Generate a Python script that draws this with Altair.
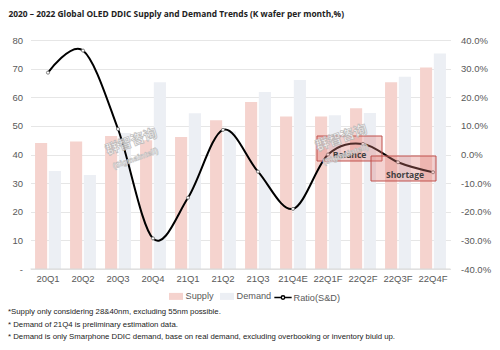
import altair as alt
import pandas as pd

quarters = ["20Q1", "20Q2", "20Q3", "20Q4", "21Q1", "21Q2", "21Q3", "21Q4E",
            "22Q1F", "22Q2F", "22Q3F", "22Q4F"]
supply = [44.0, 44.5, 46.5, 45.0, 46.1, 52.0, 58.3, 53.3, 53.3, 56.2, 65.2, 70.4]
demand = [34.2, 32.8, 47.5, 65.2, 54.4, 48.0, 61.8, 66.0, 53.7, 54.5, 67.2, 75.3]
ratio = [0.286, 0.363, 0.089, -0.293, -0.151, 0.086, -0.060, -0.190,
         0.000, 0.037, -0.027, -0.062]

title_text = "2020 \u2013 2022 Global OLED DDIC Supply and Demand Trends (K wafer per month,%)"
notes = [
    "*Supply only considering 28&40nm, excluding 55nm possible.",
    "* Demand of 21Q4 is preliminary estimation data.",
    "* Demand is only Smarphone DDIC demand, base on real demand, excluding overbooking or inventory biuld up.",
]

bars_df = pd.DataFrame(
    [{"q": q, "series": "Supply", "v": s} for q, s in zip(quarters, supply)]
    + [{"q": q, "series": "Demand", "v": d} for q, d in zip(quarters, demand)]
)
line_df = pd.DataFrame({"q": quarters, "r": ratio, "series": "Ratio(S&D)"})
one = pd.DataFrame({"a": [0]})

FONT = "Liberation Sans"
GRAY = "#595959"
H = 229

xscale = alt.Scale(domain=quarters, paddingInner=0.26, paddingOuter=0.13)

bars = alt.Chart(bars_df).mark_bar().encode(
    x=alt.X("q:N", scale=xscale, sort=quarters, title=None, axis=None),
    xOffset=alt.XOffset("series:N", sort=["Supply", "Demand"],
                        scale=alt.Scale(domain=["Supply", "Demand"], paddingInner=0.12)),
    y=alt.Y("v:Q", scale=alt.Scale(domain=[0, 80]), title=None, stack=None,
            axis=alt.Axis(orient="left", values=list(range(0, 81, 10)), ticks=False,
                          domain=False, gridColor="#e6e6e6", labelColor=GRAY,
                          labelFontSize=9.5, labelFont=FONT, labelPadding=8,
                          labelExpr="datum.value == 0 ? '-' : datum.label")),
    color=alt.Color("series:N",
                    scale=alt.Scale(domain=["Supply", "Demand"], range=["#f5d3ce", "#eceff4"]),
                    legend=alt.Legend(title=None, orient="none", direction="horizontal",
                                      legendX=137.5, legendY=248,
                                      symbolType="M-1,-0.5H1V0.5H-1Z", symbolSize=196,
                                      labelColor=GRAY, labelFontSize=9.2, labelFont=FONT,
                                      columnPadding=5, labelOffset=1.5)),
)

# category axis: baseline rule and labels placed through the x scale
x_domain = alt.Chart(one).mark_rule(color="#d9d9d9", strokeWidth=1).encode(
    x=alt.value(0), x2=alt.value(420), y=alt.value(H))
x_labels = alt.Chart(pd.DataFrame({"q": quarters})).mark_text(
    font=FONT, fontSize=9.5, color=GRAY, baseline="middle").encode(
    x=alt.X("q:N", sort=quarters, bandPosition=0.5),
    text="q:N", y=alt.value(H + 10))

rscale = alt.Scale(domain=[-0.4, 0.4])
line = alt.Chart(line_df).mark_line(interpolate="cardinal", strokeWidth=2).encode(
    x=alt.X("q:N", sort=quarters, bandPosition=0.5),
    y=alt.Y("r:Q", scale=rscale, title=None,
            axis=alt.Axis(orient="right", values=[-0.4, -0.3, -0.2, -0.1, 0, 0.1, 0.2, 0.3, 0.4],
                          ticks=False, domain=False, grid=False, labelColor=GRAY,
                          labelFontSize=9.5, labelFont=FONT, labelPadding=10,
                          labelExpr="(datum.value < -0.0001 ? '-' : '') + format(abs(datum.value) * 100, '.1f') + '%'")),
    stroke=alt.Stroke("series:N", scale=alt.Scale(domain=["Ratio(S&D)"], range=["black"]),
                      legend=alt.Legend(title=None, orient="none", legendX=243, legendY=248,
                                        symbolType="M-1,0H-0.2M0.2,0H1M-0.2,0A0.2,0.2,0,1,1,0.2,0A0.2,0.2,0,1,1,-0.2,0",
                                        symbolSize=300, symbolStrokeWidth=1.5,
                                        symbolFillColor="white",
                                        labelColor=GRAY, labelFontSize=9.2, labelFont=FONT,
                                        labelOffset=1)),
)
pts = alt.Chart(line_df).mark_point(filled=True, fill="white", stroke="#666666",
                                     strokeWidth=0.8, size=10, opacity=1).encode(
    x=alt.X("q:N", sort=quarters, bandPosition=0.5),
    y=alt.Y("r:Q", scale=rscale, axis=None),
)

# annotation boxes (pixel positions in the plot area)
box_balance = alt.Chart(one).mark_rect(fill="#e07f78", fillOpacity=0.35, stroke="#c0504d",
                                       strokeWidth=1).encode(
    x=alt.value(286.5), x2=alt.value(351.5), y=alt.value(96), y2=alt.value(121))
box_short = alt.Chart(one).mark_rect(fill="#e07f78", fillOpacity=0.35, stroke="#c0504d",
                                     strokeWidth=1).encode(
    x=alt.value(340.5), x2=alt.value(405.5), y=alt.value(116), y2=alt.value(141))
txt_balance = alt.Chart(one).mark_text(text="Balance", font="Open Sans", fontWeight="bold",
                                       fontSize=8.5, color="#404040").encode(
    x=alt.value(319), y=alt.value(115))
txt_short = alt.Chart(one).mark_text(text="Shortage", font="Open Sans", fontWeight="bold",
                                     fontSize=8.5, color="#404040").encode(
    x=alt.value(374.5), y=alt.value(135))

# watermarks
wm = []
for (cx, cy) in [(101, 102), (311, 98)]:
    wm.append(alt.Chart(one).mark_text(text="群智咨询", font="Noto Sans CJK SC", fontWeight="bold",
                                       fontSize=13.5, angle=340, fill="#ffffff", stroke="#b8b8b8",
                                       strokeWidth=0.8, opacity=0.9).encode(
        x=alt.value(cx), y=alt.value(cy)))
    wm.append(alt.Chart(one).mark_text(text="(Sigmaintell)", font=FONT, fontWeight="bold",
                                       fontSize=8, angle=340, fill="#ffffff", stroke="#b8b8b8",
                                       strokeWidth=0.6, opacity=0.9).encode(
        x=alt.value(cx + 4), y=alt.value(cy + 17)))

title = alt.Chart(one).mark_text(text=title_text, font="Open Sans", fontWeight="bold",
                                 fontSize=8.4, color="#222222", align="left",
                                 baseline="middle").encode(
    x=alt.value(-22), y=alt.value(-26))
note_layers = []
for i, n in enumerate(notes):
    note_layers.append(alt.Chart(one).mark_text(text=n, font=FONT, fontSize=7.8,
                                                color="#222222", align="left",
                                                baseline="middle").encode(
        x=alt.value(-22.5), y=alt.value(272 + i * 12.7)))

chart = alt.layer(bars, x_domain, x_labels, line, pts, box_balance, box_short, txt_balance,
                  txt_short, *wm, title, *note_layers).resolve_scale(y="independent").properties(
    width=420, height=H,
    autosize=alt.AutoSizeParams(type="none"),
    padding={"left": 30.5, "top": 40, "right": 49.5, "bottom": 81},
).configure_view(stroke=None)

chart.save("out.html", embed_options={"renderer": "svg", "actions": False})
